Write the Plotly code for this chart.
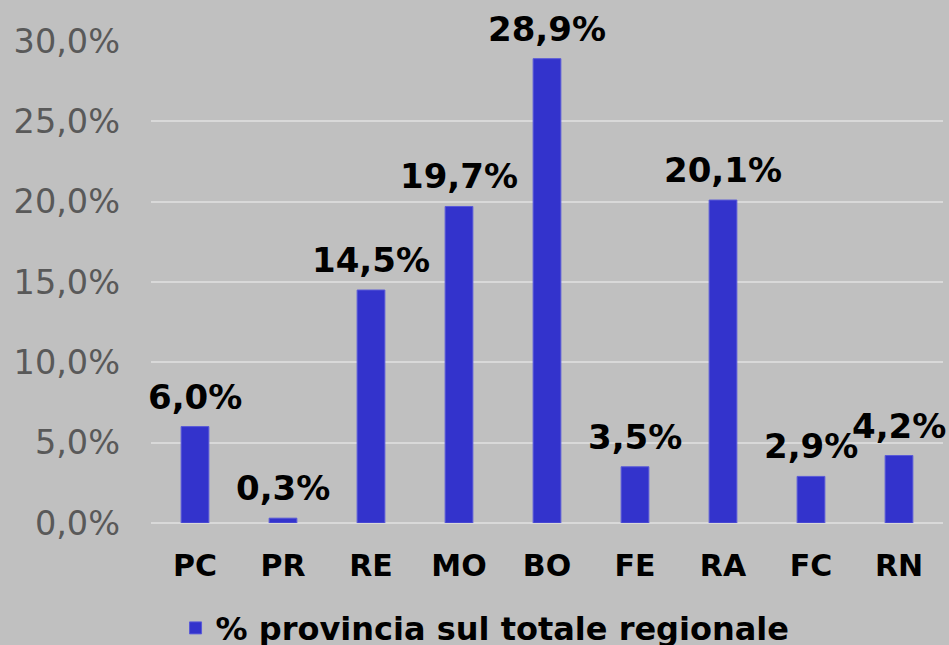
import plotly.graph_objects as go

province = ["PC", "PR", "RE", "MO", "BO", "FE", "RA", "FC", "RN"]
quota = [0.060, 0.003, 0.145, 0.197, 0.289, 0.035, 0.201, 0.029, 0.042]
serie = "% provincia sul totale regionale"

font_family = "DejaVu Sans, Verdana, sans-serif"

fig = go.Figure()
fig.add_trace(go.Bar(
    x=province,
    y=quota,
    name=serie,
    marker=dict(color="#3333CC", line=dict(color="#5a5ad8", width=1)),
    showlegend=True,
))

# etichette dati sopra le barre
for p, q in zip(province, quota):
    fig.add_annotation(
        x=p, y=q, text=f"{q * 100:.1f}%".replace(".", ","),
        showarrow=False, yanchor="bottom", yshift=8,
        font=dict(family=font_family, size=34, color="black", weight="bold"),
    )

fig.update_layout(
    width=949,
    height=645,
    separators=",.",
    paper_bgcolor="#C0C0C0",
    plot_bgcolor="#C0C0C0",
    bargap=0.685,
    margin=dict(l=151, r=6, t=41, b=122, autoexpand=False),
    font=dict(family=font_family, size=32, color="black"),
    showlegend=True,
    legend=dict(
        orientation="h",
        x=0.031, xanchor="left",
        y=-0.218, yanchor="middle",
        font=dict(family=font_family, size=32, color="black", weight="bold"),
        bgcolor="rgba(0,0,0,0)",
    ),
)

fig.update_xaxes(
    type="category",
    range=[-0.5, len(province) - 0.5],
    showgrid=False,
    showline=False,
    ticks="",
    automargin=False,
    ticklabelstandoff=22,
    tickfont=dict(family=font_family, size=30, color="black", weight="bold"),
)

fig.update_yaxes(
    range=[0, 0.30],
    dtick=0.05,
    tickformat=".1%",
    showgrid=True,
    gridcolor="#D9D9D9",
    gridwidth=1.5,
    zeroline=True,
    zerolinecolor="#D9D9D9",
    zerolinewidth=1.5,
    showline=False,
    ticks="",
    automargin=False,
    ticklabelstandoff=30,
    tickfont=dict(family=font_family, size=33.5, color="#595959"),
)

fig.write_html("out.html", config={"displayModeBar": False},
               post_script="document.body.style.margin='0';")
